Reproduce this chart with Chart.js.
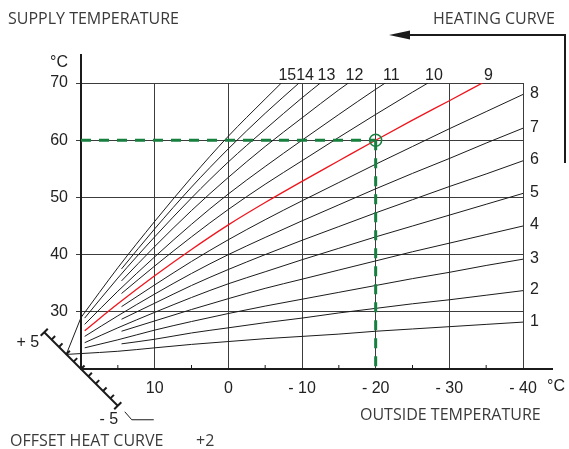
<!DOCTYPE html>
<html lang="en">
  <head>
    <meta charset="UTF-8" />
    <title>Heating Curve</title>
    <style>
      body {
        margin: 0;
        background: #fff;
      }
      #wrap {
        width: 569px;
        height: 449px;
      }
    </style>
  </head>
  <body>
    <div id="wrap"><canvas id="chart" width="569" height="449"></canvas></div>
    <script src="https://cdn.jsdelivr.net/npm/chart.js@4"></script>
    <script>
      // [outside temperature, supply temperature]
      const curve1 = [[20, 22.7], [15, 23.1], [10, 23.7], [5, 24.3], [0, 24.8], [-5, 25.3], [-10, 25.7], [-15, 26.1], [-20, 26.6], [-25, 27.0], [-30, 27.4], [-35, 27.8], [-40, 28.2]];
      const curve2 = [[14.5, 24.4], [10, 25.2], [5, 26.3], [0, 27.2], [-5, 28.1], [-10, 28.9], [-15, 29.8], [-20, 30.6], [-25, 31.4], [-30, 32.1], [-35, 32.9], [-40, 33.7]];
      const curve3 = [[19.5, 23.7], [15, 25.1], [10, 26.8], [5, 28.3], [0, 29.7], [-5, 31.0], [-10, 32.2], [-15, 33.4], [-20, 34.6], [-25, 35.8], [-30, 36.9], [-35, 38.1], [-40, 39.2]];
      const curve4 = [[14.5, 26.6], [10, 28.4], [5, 30.4], [0, 32.3], [-5, 34.1], [-10, 35.7], [-15, 37.3], [-20, 38.9], [-25, 40.5], [-30, 42.0], [-35, 43.5], [-40, 45.0]];
      const curve5 = [[19.5, 24.6], [15, 27.2], [10, 29.9], [5, 32.5], [0, 34.9], [-5, 37.0], [-10, 39.1], [-15, 41.1], [-20, 43.1], [-25, 45.0], [-30, 46.9], [-35, 48.8], [-40, 50.7]];
      const curve6 = [[14.5, 28.7], [10, 31.5], [5, 34.6], [0, 37.4], [-5, 40.0], [-10, 42.5], [-15, 44.9], [-20, 47.3], [-25, 49.6], [-30, 51.9], [-35, 54.1], [-40, 56.4]];
      const curve7 = [[19.5, 25.7], [15, 29.3], [10, 33.1], [5, 36.7], [0, 40.0], [-5, 43.0], [-10, 45.9], [-15, 48.7], [-20, 51.5], [-25, 54.2], [-30, 56.8], [-35, 59.5], [-40, 62.1]];
      const curve8 = [[14.5, 30.9], [10, 34.7], [5, 38.8], [0, 42.6], [-5, 46.1], [-10, 49.4], [-15, 52.6], [-20, 55.8], [-25, 58.9], [-30, 62.0], [-35, 65.0], [-40, 68.0]];
      const curve9 = [[19.5, 26.7], [15, 31.4], [10, 36.3], [5, 40.9], [0, 45.2], [-5, 49.1], [-10, 52.8], [-15, 56.4], [-20, 60.0], [-25, 63.5], [-30, 66.9], [-34.5, 70]];
      const curve10 = [[14.5, 33.2], [10, 38.0], [5, 43.1], [0, 47.9], [-5, 52.3], [-10, 56.4], [-15, 60.5], [-20, 64.5], [-25, 68.4], [-27.1, 70]];
      const curve11 = [[19.5, 27.8], [15, 33.6], [10, 39.6], [5, 45.3], [0, 50.6], [-5, 55.4], [-10, 60.0], [-15, 64.5], [-20, 68.9], [-21.3, 70]];
      const curve12 = [[14.5, 35.4], [10, 41.4], [5, 47.7], [0, 53.5], [-5, 58.9], [-10, 63.9], [-15, 68.8], [-16.3, 70]];
      const curve13 = [[19.5, 28.9], [15, 35.9], [10, 43.1], [5, 49.9], [0, 56.2], [-5, 61.9], [-10, 67.4], [-12.5, 70]];
      const curve14 = [[14.5, 37.5], [10, 44.5], [5, 51.8], [0, 58.5], [-5, 64.7], [-9.6, 70]];
      const curve15 = [[20, 29.0], [15, 37.7], [10, 45.8], [5, 53.5], [0, 60.7], [-5, 67.2], [-7.2, 70]];

      const curveNames = ["1", "2", "3", "4", "5", "6", "7", "8", "9", "10", "11", "12", "13", "14", "15"];
      const highlightCurve = "9";

      // offset +2 point and the lines joining it to curves 15 and 1
      const offsetLink = [[20, 29.0], [22, 22.55], [20, 22.7]];
      const designPoint = [-20, 60];

      const xTicks = [10, 0, -10, -20, -30, -40];
      const xTickLabels = ["10", "0", "- 10", "- 20", "- 30", "- 40"];
      const xMinorTicks = [15, 5, -5, -15, -25, -35];
      const yTicks = [30, 40, 50, 60, 70];
      const offsetSteps = [5, 4, 3, 2, 1, 0, -1, -2, -3, -4, -5];

      const curves = [curve1, curve2, curve3, curve4, curve5, curve6, curve7, curve8,
        curve9, curve10, curve11, curve12, curve13, curve14, curve15];

      const INK = "#1b1b1b";
      const GREEN = "#16803e";
      const RED = "#f0141c";
      const NUM_FONT = '16px "Liberation Sans", Arial, sans-serif';
      const TITLE_FONT = '16px "Open Sans", sans-serif';

      const toXY = (pts) => pts.map(([x, y]) => ({ x, y }));

      const datasets = [
        {
          label: "design point",
          data: [{ x: designPoint[0], y: designPoint[1] }],
          showLine: false,
          pointRadius: 6,
          pointBorderWidth: 1.5,
          pointBorderColor: GREEN,
          pointBackgroundColor: "rgba(0,0,0,0)",
          order: 0,
        },
        {
          label: "design supply",
          data: [{ x: 20, y: designPoint[1] }, { x: designPoint[0], y: designPoint[1] }],
          borderColor: GREEN,
          borderWidth: 3,
          borderDash: [10, 8],
          pointRadius: 0,
          order: 1,
        },
        {
          label: "design outside",
          data: [{ x: designPoint[0], y: designPoint[1] }, { x: designPoint[0], y: 20 }],
          borderColor: GREEN,
          borderWidth: 3,
          borderDash: [10, 8],
          pointRadius: 0,
          order: 1,
        },
        {
          label: "offset",
          data: toXY(offsetLink),
          borderColor: INK,
          borderWidth: 1,
          pointRadius: 0,
          tension: 0,
          clip: false,
          order: 3,
        },
      ];

      curves.forEach((c, i) => {
        const hot = curveNames[i] === highlightCurve;
        datasets.push({
          label: curveNames[i],
          data: toXY(c),
          borderColor: hot ? RED : INK,
          borderWidth: hot ? 1.3 : 1,
          pointRadius: 0,
          cubicInterpolationMode: "monotone",
          order: hot ? 2 : 3,
        });
      });

      const line = (ctx, pts) => {
        ctx.beginPath();
        ctx.moveTo(pts[0][0], pts[0][1]);
        for (let i = 1; i < pts.length; i++) ctx.lineTo(pts[i][0], pts[i][1]);
        ctx.stroke();
      };

      const decorations = {
        id: "decorations",
        afterDraw(chart) {
          const { ctx, chartArea: a, scales } = chart;
          const xs = scales.x;
          ctx.save();
          ctx.strokeStyle = INK;
          ctx.fillStyle = INK;

          // axis extensions
          ctx.lineWidth = 2;
          line(ctx, [[a.left, a.top], [a.left, 54]]);
          line(ctx, [[a.right, a.bottom], [553, a.bottom]]);

          // minor ticks on the outside temperature axis
          ctx.lineWidth = 1;
          xMinorTicks.forEach((v) => {
            const px = xs.getPixelForValue(v);
            line(ctx, [[px, a.bottom], [px, a.bottom - 4]]);
          });

          // offset heat curve scale
          const step = 7.35;
          const op = (o) => [a.left - o * step, a.bottom - o * step];
          const k = Math.SQRT1_2;
          ctx.lineWidth = 2;
          line(ctx, [op(5), op(-5)]);
          offsetSteps.forEach((o) => {
            const [px, py] = op(o);
            const end = Math.abs(o) === 5;
            const t = end ? 5 : 0;
            line(ctx, [[px - t * k, py + t * k], [px + 5 * k, py - 5 * k]]);
          });
          const [mx, my] = op(-5);
          ctx.lineWidth = 1;
          line(ctx, [[mx + 7, my + 6], [mx + 14, my + 14], [mx + 36, my + 14]]);

          // curve numbers
          ctx.font = NUM_FONT;
          ctx.fillStyle = "#222";
          chart.data.datasets.forEach((ds, i) => {
            if (!curveNames.includes(ds.label)) return;
            const pts = chart.getDatasetMeta(i).data;
            const last = pts[pts.length - 1];
            if (Math.abs(last.x - a.right) < 1) {
              ctx.textAlign = "left";
              ctx.textBaseline = "middle";
              ctx.fillText(ds.label, last.x + 7, last.y - 1);
            } else {
              ctx.textAlign = "center";
              ctx.textBaseline = "alphabetic";
              ctx.fillText(ds.label, last.x + 6, a.top - 3);
            }
          });

          // unit labels and offset scale labels
          ctx.textBaseline = "alphabetic";
          ctx.textAlign = "right";
          ctx.fillText("°C", 68, 67);
          ctx.fillText("+ 5", op(5)[0] - 5, op(5)[1] + 15);
          ctx.textAlign = "left";
          ctx.fillText("°C", 547, 391);
          ctx.textAlign = "center";
          ctx.fillText("- 5", mx - 9, my + 18);

          // titles
          ctx.font = TITLE_FONT;
          ctx.fillStyle = "#3a3a3a";
          ctx.textAlign = "left";
          ctx.fillText("SUPPLY TEMPERATURE", 8, 24);
          ctx.fillText("OUTSIDE TEMPERATURE", 360, 420);
          ctx.fillText("OFFSET HEAT CURVE", 10, 446);
          ctx.fillText("+2", 196, 446);
          ctx.textAlign = "right";
          ctx.fillText("HEATING CURVE", 555, 24);

          // heating curve arrow
          ctx.strokeStyle = INK;
          ctx.fillStyle = INK;
          ctx.lineWidth = 2;
          line(ctx, [[565, 163], [565, 35], [405, 35]]);
          ctx.beginPath();
          ctx.moveTo(389, 35);
          ctx.lineTo(410, 30.5);
          ctx.lineTo(410, 39.5);
          ctx.closePath();
          ctx.fill();

          ctx.restore();
        },
      };

      new Chart(document.getElementById("chart"), {
        type: "line",
        data: { datasets },
        options: {
          responsive: false,
          animation: false,
          events: [],
          layout: { padding: { left: 0, right: 46, top: 83, bottom: 50 } },
          plugins: { legend: { display: false }, tooltip: { enabled: false } },
          scales: {
            x: {
              type: "linear",
              min: -40,
              max: 20,
              reverse: true,
              afterBuildTicks: (s) => {
                s.ticks = xTicks.map((v) => ({ value: v }));
              },
              afterFit: (s) => {
                s.height = 30;
              },
              ticks: {
                autoSkip: false,
                maxRotation: 0,
                padding: 10,
                color: "#222",
                font: { family: '"Liberation Sans", Arial, sans-serif', size: 16 },
                callback: (v) => xTickLabels[xTicks.indexOf(v)],
              },
              grid: { color: "#3c3c3c", lineWidth: 1, drawTicks: false },
              border: { color: INK, width: 2 },
            },
            y: {
              type: "linear",
              min: 20,
              max: 70,
              afterBuildTicks: (s) => {
                s.ticks = yTicks.map((v) => ({ value: v }));
              },
              afterFit: (s) => {
                s.width = 81;
              },
              ticks: {
                padding: 8,
                color: "#222",
                font: { family: '"Liberation Sans", Arial, sans-serif', size: 16 },
              },
              grid: { color: "#3c3c3c", lineWidth: 1, tickLength: 5 },
              border: { color: INK, width: 2 },
            },
          },
        },
        plugins: [decorations],
      });
    </script>
  </body>
</html>
